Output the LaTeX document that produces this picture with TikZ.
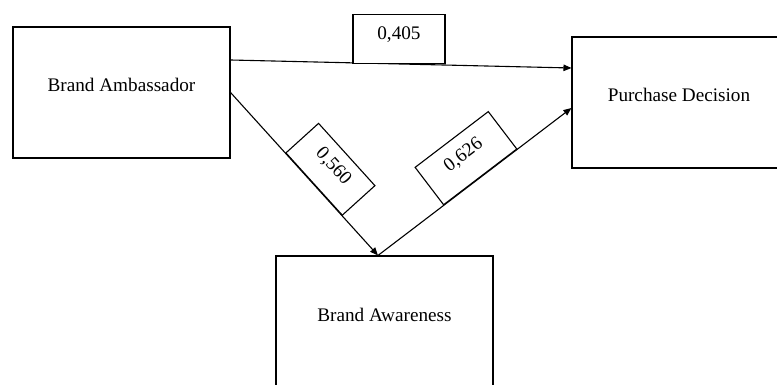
\documentclass[tikz,border=0pt]{standalone}
\usepackage{fontspec}
\setmainfont{Liberation Serif}
\usetikzlibrary{arrows.meta}
\begin{document}
\begin{tikzpicture}[x=1pt,y=-1pt,
  font=\fontsize{19.2}{22}\selectfont,
  box/.style={draw, line width=1.1pt, inner sep=0pt, minimum width=217pt, minimum height=131pt, text height=13pt, text depth=14pt},
  coef/.style={draw, fill=white, line width=1.1pt, inner sep=0pt, text height=13pt, text depth=11pt},
  arr/.style={line width=1.1pt, -{Triangle[length=8pt,width=6.5pt]}}]
\clip (0,0) rectangle (777,385);
\node[box] (ba) at (121.5,92.5) {Brand Ambassador};
\node[box, minimum width=214pt] (pd) at (679,102.5) {Purchase Decision};
\node[box] (bw) at (384.5,321.5) {Brand Awareness};
\coordinate (bwtop) at ([xshift=-6.5pt]bw.north);
\draw[arr] ([yshift=32.5pt]ba.east) -- node[coef, pos=0.494, anchor=south, minimum width=92pt, minimum height=49pt] (c1) {0,405} ([yshift=34.5pt]pd.west);
\draw[arr] (ba.east) -- node[coef, pos=0.564, sloped, anchor=south, minimum width=84pt, minimum height=44pt] (c2) {0,560} (bwtop);
\draw[arr] (bwtop) -- node[coef, pos=0.53, sloped, anchor=south, minimum width=92pt, minimum height=47pt] (c3) {0,626} ([yshift=-5.5pt]pd.west);
\end{tikzpicture}
\end{document}
